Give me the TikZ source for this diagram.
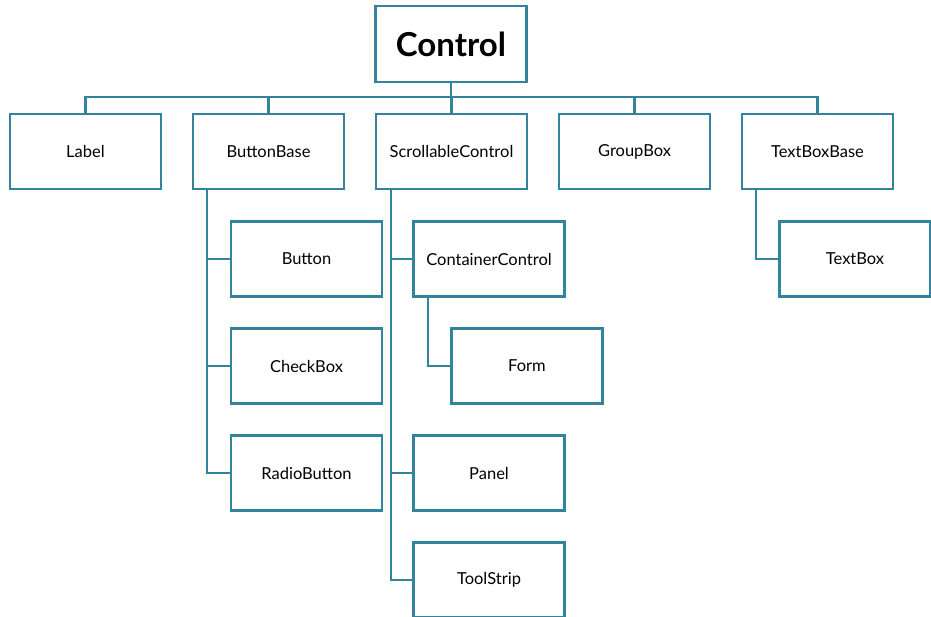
\documentclass[tikz,border=0pt]{standalone}
\usepackage{fontspec}
\setmainfont{Lato}
\definecolor{teal}{RGB}{49,132,155}
\begin{document}
\begin{tikzpicture}[x=1pt,y=-1pt,
  box/.style={draw=teal,line width=2.6pt,fill=white,minimum width=151pt,minimum height=75pt,inner sep=2pt,font=\fontsize{16.5}{19}\selectfont,text=black},
  link/.style={draw=teal,line width=2.4pt}]
\useasboundingbox[fill=white] (0,0) rectangle (931,616);
\node[box,minimum height=76pt,font=\fontsize{33}{38}\bfseries\selectfont] (ctrl) at (451,44) {Control};
\node[box] (label) at (85.5,151.5) {Label};
\node[box] (bb) at (268.5,151.5) {ButtonBase};
\node[box] (sc) at (451.5,151.5) {ScrollableControl};
\node[box] (gb) at (634.5,151.5) {GroupBox};
\node[box] (tbb) at (817.5,151.5) {TextBoxBase};
\node[box] (button) at (306.5,259) {Button};
\node[box] (checkbox) at (306.5,366) {CheckBox};
\node[box] (radio) at (306.5,473) {RadioButton};
\node[box] (cc) at (489,259) {ContainerControl};
\node[box] (form) at (527,366) {Form};
\node[box] (panel) at (489,473) {Panel};
\node[box] (toolstrip) at (489,580) {ToolStrip};
\node[box] (textbox) at (855,259) {TextBox};
% bus
\draw[link] (label.north) -- ++(0,-16) -| (tbb.north);
\draw[link] (ctrl.south) -- (ctrl.south |- 0,98);
\draw[link] (bb.north) -- ++(0,-16);
\draw[link] (sc.north) -- ++(0,-16);
\draw[link] (gb.north) -- ++(0,-16);
% ButtonBase children
\draw[link] ([xshift=15pt]bb.south west) |- (radio.west);
\draw[link] ([xshift=15pt]bb.south west) |- (button.west);
\draw[link] ([xshift=15pt]bb.south west) |- (checkbox.west);
% ScrollableControl children
\draw[link] ([xshift=16pt]sc.south west) |- (toolstrip.west);
\draw[link] ([xshift=16pt]sc.south west) |- (cc.west);
\draw[link] ([xshift=16pt]sc.south west) |- (panel.west);
% ContainerControl child
\draw[link] ([xshift=16pt]cc.south west) |- (form.west);
% TextBoxBase child
\draw[link] ([xshift=15pt]tbb.south west) |- (textbox.west);
\end{tikzpicture}
\end{document}
